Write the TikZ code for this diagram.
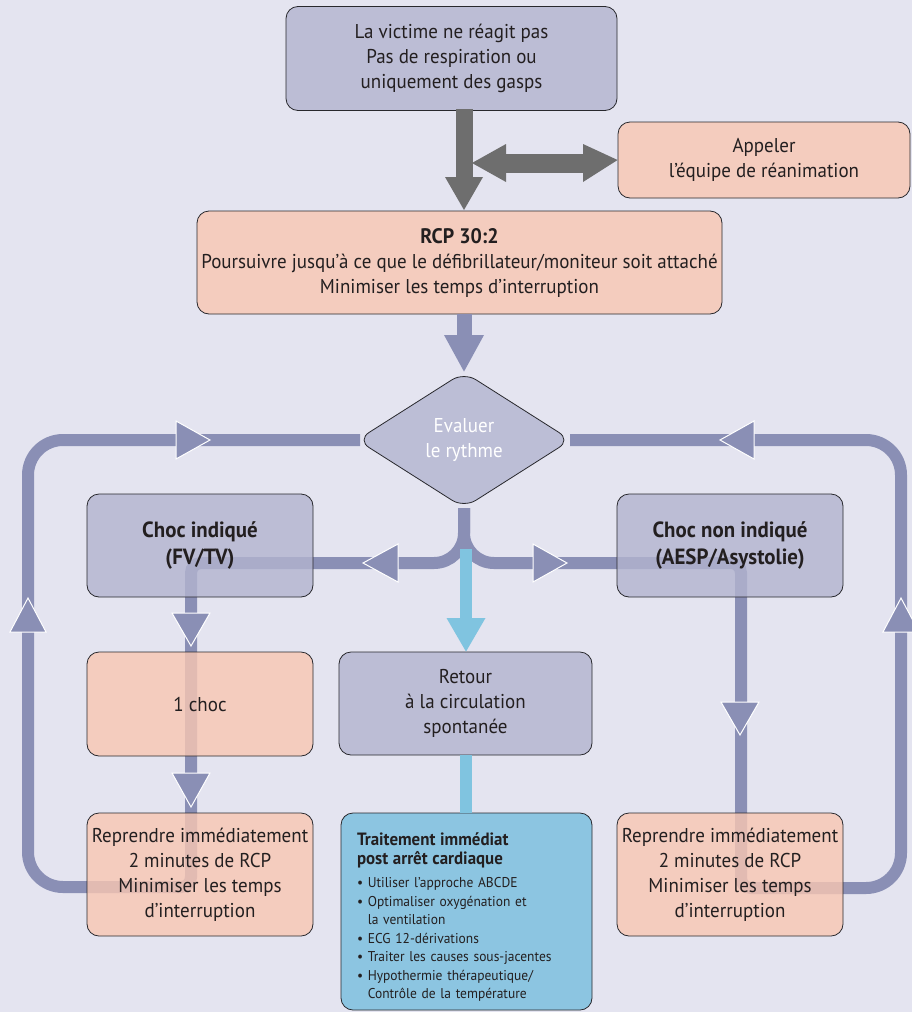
\documentclass[tikz,border=0pt]{standalone}
\usepackage{fontspec}
\setmainfont{PT Sans}[FakeStretch=0.95]
\usetikzlibrary{shapes.geometric}
\definecolor{bg}{RGB}{228,228,240}
\definecolor{purpfill}{RGB}{178,180,207}
\definecolor{peachfill}{RGB}{248,198,178}
\definecolor{cyanfill}{RGB}{118,190,222}
\definecolor{diamfill}{RGB}{188,190,214}
\definecolor{linec}{RGB}{138,143,181}
\definecolor{cyanline}{RGB}{128,196,224}
\definecolor{greyc}{RGB}{110,110,110}
\definecolor{boxline}{RGB}{40,40,45}
\definecolor{txt}{RGB}{35,31,32}
\tikzset{
  box/.style={draw=boxline, line width=0.8pt, rounded corners=12pt, fill opacity=0.8, text opacity=1,
    inner sep=0pt, align=center, text=txt, font=\fontsize{20}{25}\selectfont},
  pbox/.style={box, fill=purpfill},
  obox/.style={box, fill=peachfill},
  flow/.style={draw=linec, line width=12pt},
  head/.style={fill=linec, draw=white, line width=1pt, line join=miter},
}
\begin{document}
\begin{tikzpicture}[x=1pt,y=-1pt]
\fill[bg] (0,0) rectangle (912,1012);
\useasboundingbox (0,0) rectangle (912,1012);

% named coordinates for connector corners
\coordinate (dS) at (464,508);
\coordinate (cL1) at (380,563);
\coordinate (cL2) at (191,700);
\coordinate (cL3) at (100,887);
\coordinate (cL4) at (28,600);
\coordinate (cR1) at (550,563);
\coordinate (cR2) at (741,700);
\coordinate (cR3) at (820,888);
\coordinate (cR4) at (901,600);
\coordinate (dW) at (360,440);
\coordinate (dE) at (570,440);

% loops (drawn first, under boxes)
\draw[flow, rounded corners=30pt] (dS) |- (cL1);
\draw[flow, rounded corners=10pt] (cL1) -| (cL2);
\draw[flow, rounded corners=10pt] (cL2) |- (cL3);
\draw[flow, rounded corners=35pt] (cL3) -| (cL4);
\draw[flow, rounded corners=35pt] (cL4) |- (dW);
\draw[flow, rounded corners=30pt] (dS) |- (cR1);
\draw[flow, rounded corners=10pt] (cR1) -| (cR2);
\draw[flow, rounded corners=10pt] (cR2) |- (cR3);
\draw[flow, rounded corners=35pt] (cR3) -| (cR4);
\draw[flow, rounded corners=35pt] (cR4) |- (dE);

% arrowheads on the loops
\filldraw[head] (210,440) -- (176,421) -- (176,459) -- cycle;
\filldraw[head] (28,598) -- (10,632) -- (46,632) -- cycle;
\filldraw[head] (720,440) -- (754,421) -- (754,459) -- cycle;
\filldraw[head] (901,598) -- (883,632) -- (919,632) -- cycle;
\filldraw[head] (363,563) -- (398,544) -- (398,582) -- cycle;
\filldraw[head] (567,563) -- (533,544) -- (533,582) -- cycle;
\filldraw[head] (191,646) -- (172,613) -- (210,613) -- cycle;
\filldraw[head] (191,807) -- (172,773) -- (210,773) -- cycle;
\filldraw[head] (740,735) -- (721,702) -- (759,702) -- cycle;

% nodes
\node[pbox, minimum width=331pt, minimum height=104pt] (top) at (451.5,58.5)
  {La victime ne réagit pas\\Pas de respiration ou\\uniquement des gasps};
\node[obox, minimum width=292pt, minimum height=76pt] (call) at (764,160)
  {Appeler\\l’équipe de réanimation};
\node[obox, minimum width=525pt, minimum height=103pt] (rcp) at (459.5,262.5)
  {{\fontsize{21}{25}\selectfont\bfseries RCP 30:2}\\Poursuivre jusqu'à ce que le défibrillateur/moniteur soit attaché\\Minimiser les temps d’interruption};
\node[diamond, draw=boxline, line width=0.8pt, fill=diamfill, rounded corners=14pt, inner sep=0pt,
  minimum width=214pt, minimum height=136pt, text=white, align=center,
  font=\fontsize{20}{25}\selectfont] (diam) at (464,440) {Evaluer\\le rythme};
\node[pbox, minimum width=226pt, minimum height=103pt, font=\fontsize{22}{27}\selectfont\bfseries] (chocL) at (200,545.5)
  {Choc indiqué\\(FV/TV)};
\node[pbox, minimum width=226pt, minimum height=103pt, font=\fontsize{22}{27}\selectfont\bfseries] (chocR) at (730,545.5)
  {Choc non indiqué\\(AESP/Asystolie)};
\node[obox, minimum width=226pt, minimum height=104pt] (one) at (200,704) {1 choc};
\node[pbox, minimum width=253pt, minimum height=103pt] (ret) at (465.5,703.5)
  {Retour\\à la circulation\\spontanée};
\node[obox, minimum width=226pt, minimum height=123pt] (repL) at (200,874.5)
  {Reprendre immédiatement\\2 minutes de RCP\\Minimiser les temps\\d’interruption};
\node[obox, minimum width=226pt, minimum height=123pt] (repR) at (730,874.5)
  {Reprendre immédiatement\\2 minutes de RCP\\Minimiser les temps\\d’interruption};
\node[box, fill=cyanfill, minimum width=251pt, minimum height=197pt, align=left, text width=219pt,
  font=\fontsize{14.2}{18.5}\selectfont] (post) at (466.5,911.5)
  {{\fontsize{17.8}{18.5}\selectfont\bfseries\rule{0pt}{24pt}Traitement immédiat\\post arrêt cardiaque}\\[5pt]
   \textbullet\ Utiliser l’approche ABCDE\\
   \textbullet\ Optimaliser oxygénation et\\
   \hphantom{\textbullet\ }la ventilation\\
   \textbullet\ ECG 12-dérivations\\
   \textbullet\ Traiter les causes sous-jacentes\\
   \textbullet\ Hypothermie thérapeutique/\\
   \hphantom{\textbullet\ }Contrôle de la température};

% grey arrows
\draw[greyc, line width=17pt] (464,109) -- (464,178);
\fill[greyc] (464,210) -- (445,177) -- (483,177) -- cycle;
\draw[greyc, line width=19pt] (505,163) -- (584,163);
\fill[greyc] (472,163) -- (506,144) -- (506,182) -- cycle;
\fill[greyc] (call.west) -- (583,144) -- (583,182) -- cycle;

% RCP -> diamond
\draw[linec, line width=15pt] (rcp.south -| diam.north) -- (464,336);
\fill[linec] (diam.north) -- (444,335) -- (484,335) -- cycle;

% cyan connectors
\draw[cyanline, line width=12pt] (466,549) -- (466,620);
\fill[cyanline] (ret.north -| 466,0) -- (446.5,618) -- (485.5,618) -- cycle;
\draw[cyanline, line width=12pt] (ret.south -| 466,0) -- (post.north -| 466,0);
\end{tikzpicture}
\end{document}
